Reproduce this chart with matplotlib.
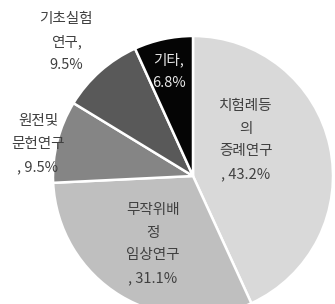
import matplotlib
matplotlib.use("Agg")
import matplotlib.pyplot as plt

plt.rcParams['font.family'] = ['Noto Sans CJK KR', 'DejaVu Sans']

# Data (clockwise from top)
categories = ["치험례등\n의\n증례연구", "무작위배\n정\n임상연구", "원전및\n문헌연구", "기초실험\n연구", "기타"]
values = [43.2, 31.1, 9.5, 9.5, 6.8]
separators = ["\n, ", "\n, ", "\n, ", ",\n", ",\n"]

colors = ["#d9d9d9", "#bfbfbf", "#858585", "#595959", "#050505"]
text_colors = ["#404040", "#404040", "#404040", "#404040", "#e8e8e8"]
# label centres in pixel coordinates (x, y from top)
label_px = [(246, 140), (153, 244), (38, 144), (66, 42), (169, 71)]

W, H = 335, 304
cx, cy, R = 193, 176, 140

fig = plt.figure(figsize=(W / 100, H / 100), dpi=100)
ax = fig.add_axes([0, 0, 1, 1])

ax.pie(values, colors=colors, startangle=90, counterclock=False,
       radius=1.0, center=(0, 0), frame=True,
       wedgeprops=dict(edgecolor="white", linewidth=1.8))
ax.set_xlim(-cx / R, (W - cx) / R)
ax.set_ylim((cy - H) / R, cy / R)
ax.set_aspect("auto")
ax.axis("off")

for name, v, sep, (px, py), tc in zip(categories, values, separators, label_px, text_colors):
    ax.text((px - cx) / R, (cy - py) / R, f"{name}{sep}{v}%",
            ha="center", va="center", fontsize=10.5, color=tc,
            linespacing=1.8, multialignment="center")

fig.savefig("out.png", dpi=100)
